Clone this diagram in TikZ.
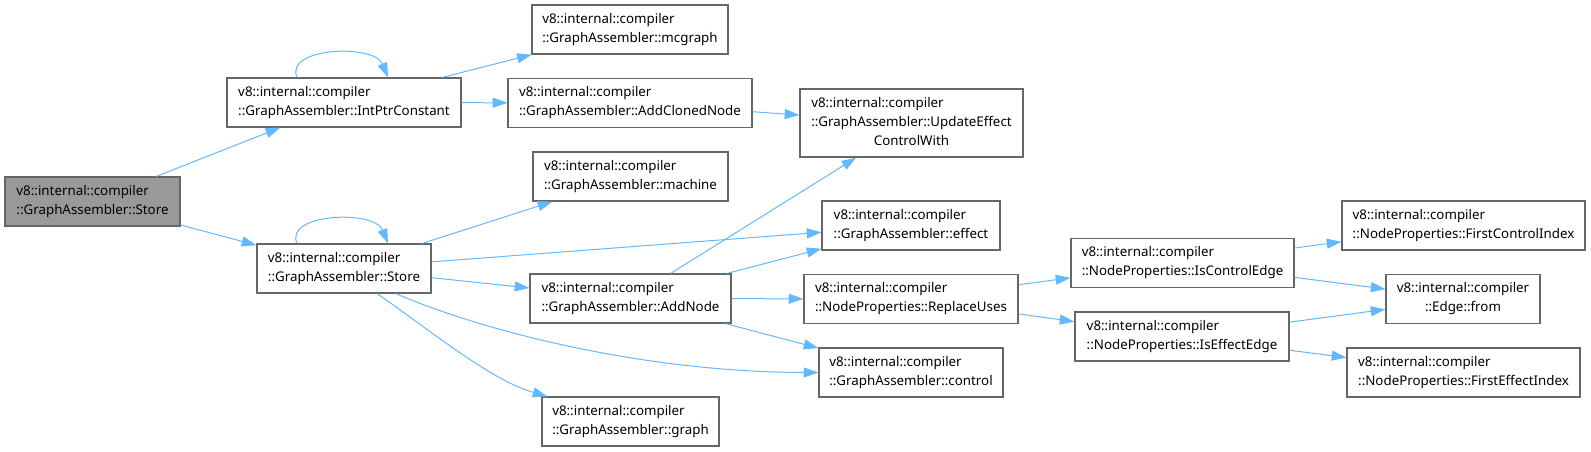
\documentclass[tikz,border=0pt]{standalone}
\usepackage{fontspec}
\setmainfont{Noto Sans}
\usetikzlibrary{arrows.meta,calc}
\definecolor{edgeblue}{HTML}{63B8FF}
\definecolor{boxline}{HTML}{666666}
\definecolor{mainfill}{HTML}{999999}
\begin{document}
\begin{tikzpicture}[x=0.75pt,y=-0.75pt,
  box/.style={draw=boxline, line width=0.9pt, fill=white, inner sep=0pt, minimum height=36.75pt,
    font=\fontsize{10pt}{14.25pt}\selectfont, align=left},
  mainbox/.style={box, fill=mainfill},
  link/.style={draw=edgeblue, line width=0.75pt, -{Triangle[length=11pt,width=7.5pt]}}]
\useasboundingbox (0,0) rectangle (1591,451);
% nodes
\node[mainbox, minimum width=131.25pt] (store) at (92.5,201.5) {v8::internal::compiler\\::GraphAssembler::Store};
\node[box, minimum width=175.5pt] (intptr) at (344,102.5) {v8::internal::compiler\\::GraphAssembler::IntPtrConstant};
\node[box, minimum width=130.5pt] (store2) at (344,268.5) {v8::internal::compiler\\::GraphAssembler::Store};
\node[box, minimum width=147pt] (mcgraph) at (630,29.5) {v8::internal::compiler\\::GraphAssembler::mcgraph};
\node[box, minimum width=183pt] (addcloned) at (630,103) {v8::internal::compiler\\::GraphAssembler::AddClonedNode};
\node[box, minimum width=167.25pt, minimum height=51pt] (update) at (911.5,123) {\begin{tabular}{@{}l@{}}v8::internal::compiler\\::GraphAssembler::UpdateEffect\\\multicolumn{1}{@{}c@{}}{ControlWith}\end{tabular}};
\node[box, minimum width=146.25pt] (machine) at (630.5,176.5) {v8::internal::compiler\\::GraphAssembler::machine};
\node[box, minimum width=133.5pt] (effect) at (911,225.5) {v8::internal::compiler\\::GraphAssembler::effect};
\node[box, minimum width=150.75pt] (addnode) at (630.5,298.5) {v8::internal::compiler\\::GraphAssembler::AddNode};
\node[box, minimum width=132.75pt] (graph) at (630.5,421.5) {v8::internal::compiler\\::GraphAssembler::graph};
\node[box, minimum width=160.5pt] (replace) at (911,299) {v8::internal::compiler\\::NodeProperties::ReplaceUses};
\node[box, minimum width=138pt] (control) at (911,372.5) {v8::internal::compiler\\::GraphAssembler::control};
\node[box, minimum width=167.25pt] (isctrl) at (1182.5,263) {v8::internal::compiler\\::NodeProperties::IsControlEdge};
\node[box, minimum width=160.5pt] (isefx) at (1182,336.5) {v8::internal::compiler\\::NodeProperties::IsEffectEdge};
\node[box, minimum width=182.25pt] (firstctrl) at (1463.5,225.5) {v8::internal::compiler\\::NodeProperties::FirstControlIndex};
\node[box, minimum width=115.5pt, align=center] (edgefrom) at (1463,299) {v8::internal::compiler\\::Edge::from};
\node[box, minimum width=174.75pt] (firsteff) at (1463.5,372.5) {v8::internal::compiler\\::NodeProperties::FirstEffectIndex};
% edges
\draw[link] (store) -- (intptr);
\draw[link] (store) -- (store2);
\draw[link] ($(intptr.north)+(-47,0)$) .. controls ($(intptr.north)+(-60,-30)$) and ($(intptr.north)+(30,-34)$) .. ($(intptr.north)+(44,0)$);
\draw[link] (intptr) -- (mcgraph);
\draw[link] (intptr) -- (addcloned);
\draw[link] (addcloned) -- (update);
\draw[link] ($(store2.north)+(-47,0)$) .. controls ($(store2.north)+(-60,-30)$) and ($(store2.north)+(30,-34)$) .. ($(store2.north)+(44,0)$);
\draw[link] (store2) -- (machine);
\draw[link] (store2) -- (effect);
\draw[link] (store2) -- (addnode);
\draw[link] ($(store2.south)+(52,0)$) .. controls (480,330) and (640,372) .. (control.west);
\draw[link] ($(store2.south)+(33,0)$) .. controls (430,330) and (490,380) .. ($(graph.north west)+(6,0)$);
\draw[link] (addnode) -- (update);
\draw[link] (addnode) -- (effect);
\draw[link] (addnode) -- (replace);
\draw[link] (addnode) -- (control);
\draw[link] (replace) -- (isctrl);
\draw[link] (replace) -- (isefx);
\draw[link] (isctrl) -- (firstctrl);
\draw[link] (isctrl) -- (edgefrom);
\draw[link] (isefx) -- (edgefrom);
\draw[link] (isefx) -- (firsteff);
\end{tikzpicture}
\end{document}
